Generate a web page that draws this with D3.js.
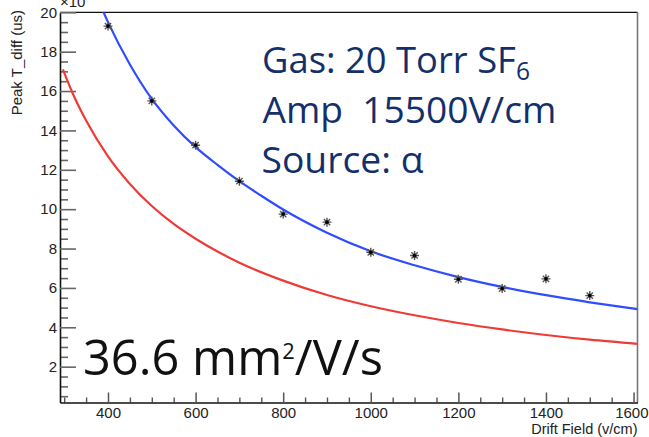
<!DOCTYPE html>
<html>
<head>
<meta charset="utf-8">
<script src="https://cdn.jsdelivr.net/npm/d3@7"></script>
<style>
  html, body { margin: 0; padding: 0; background: #fff; }
  svg { display: block; }
</style>
</head>
<body>
<svg id="chart" width="649" height="437"></svg>
<script>
// Axis tick values
const fieldTicks = [400, 600, 800, 1000, 1200, 1400, 1600];
const fieldMinorTicks = [300, 350, 450, 500, 550, 650, 700, 750, 850, 900, 950, 1050, 1100, 1150,
                         1250, 1300, 1350, 1450, 1500, 1550];
const timeTicks = [2, 4, 6, 8, 10, 12, 14, 16, 18, 20];
const timeMinorTicks = [0.5, 1, 1.5, 2.5, 3, 3.5, 4.5, 5, 5.5, 6.5, 7, 7.5, 8.5, 9, 9.5, 10.5, 11, 11.5,
                        12.5, 13, 13.5, 14.5, 15, 15.5, 16.5, 17, 17.5, 18.5, 19, 19.5];

// Measured peak time difference vs drift field
const driftField = [400, 500, 600, 700, 800, 900, 1000, 1100, 1200, 1300, 1400, 1500];
const peakTdiff  = [19.3, 15.5, 13.25, 11.42, 9.75, 9.34, 7.81, 7.65, 6.44, 5.97, 6.46, 5.61];

// Fitted curve through the measurements (blue)
const fitField = [380, 400, 450, 500, 550, 600, 650, 700, 750, 800, 900, 1000, 1100, 1200, 1300, 1400, 1500, 1609];
const fitTdiff = [20.5, 19.5, 17.35, 15.6, 14.25, 13.15, 12.25, 11.42, 10.68, 9.98, 8.8, 7.86, 7.15, 6.55, 6.05, 5.63, 5.27, 4.92];

// Expected curve (red)
const refField = [297, 320, 350, 400, 450, 500, 550, 600, 650, 700, 800, 900, 1000, 1100, 1200, 1300, 1400, 1500, 1609];
const refTdiff = [17.1, 15.85, 14.5, 12.68, 11.28, 10.16, 9.25, 8.5, 7.85, 7.28, 6.37, 5.64, 5.07, 4.61, 4.22, 3.89, 3.61, 3.37, 3.16];

const svg = d3.select("#chart");
const L = 60, R = 637.5, T = 12.3, B = 402.5;

const x = d3.scaleLinear().domain([290.4, 1609]).range([L, R]);
const y = d3.scaleLinear().domain([0.18, 20]).range([B, T]);

const axisFont = "'Liberation Sans', Arial, Helvetica, sans-serif";

// frame: top and right edges
svg.append("line").attr("x1", L).attr("x2", R).attr("y1", T).attr("y2", T)
  .attr("stroke", "#111").attr("stroke-width", 1.2);
svg.append("line").attr("x1", R).attr("x2", R).attr("y1", T).attr("y2", B)
  .attr("stroke", "#777").attr("stroke-width", 1.6);

// x axis (ticks point into the frame)
const xMinor = svg.append("g").attr("transform", `translate(0,${B})`)
  .call(d3.axisBottom(x).tickValues(fieldMinorTicks).tickSizeInner(-5).tickSizeOuter(0).tickFormat(""));
xMinor.select(".domain").remove();
xMinor.selectAll("line").attr("stroke", "#555").attr("stroke-width", 1.4);

const xAxis = svg.append("g").attr("transform", `translate(0,${B})`)
  .call(d3.axisBottom(x).tickValues(fieldTicks).tickSizeInner(-10).tickSizeOuter(0)
    .tickPadding(5).tickFormat(d3.format("d")));
xAxis.select(".domain").attr("stroke", "#111").attr("stroke-width", 1.6);
xAxis.selectAll("line").attr("stroke", "#555").attr("stroke-width", 1.5);
xAxis.selectAll("text").attr("font-family", axisFont).attr("font-size", 15).attr("fill", "#222");
// keep the last label inside the canvas
xAxis.selectAll(".tick").filter(d => d === 1600).select("text")
  .attr("text-anchor", "end").attr("x", 648 - x(1600));

// y axis
const yMinor = svg.append("g").attr("transform", `translate(${L},0)`)
  .call(d3.axisLeft(y).tickValues(timeMinorTicks).tickSizeInner(-8).tickSizeOuter(0).tickFormat(""));
yMinor.select(".domain").remove();
yMinor.selectAll("line").attr("stroke", "#666").attr("stroke-width", 1.6);

const yAxis = svg.append("g").attr("transform", `translate(${L},0)`)
  .call(d3.axisLeft(y).tickValues(timeTicks).tickSizeInner(-16).tickSizeOuter(0).tickPadding(3));
yAxis.select(".domain").attr("stroke", "#111").attr("stroke-width", 1.6);
yAxis.selectAll("line").attr("stroke", "#666").attr("stroke-width", 1.6);
yAxis.selectAll("text").attr("font-family", axisFont).attr("font-size", 15).attr("fill", "#222");

// axis titles
svg.append("text").attr("x", R).attr("y", 433.5).attr("text-anchor", "end")
  .attr("font-family", axisFont).attr("font-size", 14.5).attr("fill", "#222")
  .text("Drift Field (v/cm)");
svg.append("text").attr("transform", "translate(22,10) rotate(-90)").attr("text-anchor", "end")
  .attr("font-family", axisFont).attr("font-size", 15).attr("fill", "#222")
  .text("Peak T_diff (us)");
// axis exponent label, sitting at the top edge
svg.append("text").attr("x", 60).attr("y", 6.5)
  .attr("font-family", axisFont).attr("font-size", 15).attr("fill", "#222")
  .text("\u00d710");

// curves
svg.append("defs").append("clipPath").attr("id", "frame")
  .append("rect").attr("x", L).attr("y", T).attr("width", R - L).attr("height", B - T);

const line = d3.line().x(d => x(d[0])).y(d => y(d[1])).curve(d3.curveMonotoneX);
const plot = svg.append("g").attr("clip-path", "url(#frame)");

plot.append("path").datum(d3.zip(refField, refTdiff))
  .attr("d", line).attr("fill", "none").attr("stroke", "#ee3b35").attr("stroke-width", 2.2);
plot.append("path").datum(d3.zip(fitField, fitTdiff))
  .attr("d", line).attr("fill", "none").attr("stroke", "#2f4cff").attr("stroke-width", 2.2);

// asterisk markers
const markers = svg.append("g").selectAll("g").data(d3.zip(driftField, peakTdiff)).join("g")
  .attr("transform", d => `translate(${x(d[0])},${y(d[1])})`);
const r = 4.5;
markers.append("path")
  .attr("d", `M${-r},0H${r}M0,${-r}V${r}M${-r * 0.7},${-r * 0.7}L${r * 0.7},${r * 0.7}M${-r * 0.7},${r * 0.7}L${r * 0.7},${-r * 0.7}`)
  .attr("stroke", "#555").attr("stroke-width", 1.4).attr("fill", "none");
markers.append("circle").attr("r", 1.8).attr("fill", "#000");

// annotation text: one <text> per line, compressed horizontally to its width
const noteFont = "'Open Sans', 'Noto Sans', sans-serif";
const navy = "#13306b";
function note(parts, xPos, yPos, size, width, color) {
  const t = svg.append("text")
    .attr("font-family", noteFont).attr("font-size", size).attr("fill", color)
    .style("white-space", "pre");
  parts.forEach(p => {
    const s = t.append("tspan").text(p.text);
    if (p.size) s.attr("font-size", p.size);
    if (p.dy) s.attr("dy", p.dy);
  });
  const w = t.node().getComputedTextLength();
  t.attr("transform", `translate(${xPos},${yPos}) scale(${width / w},1)`);
  return t;
}
note([{ text: "Gas: 20 Torr SF" }, { text: "6", size: 25, dy: 6.5 }], 262, 73.3, 37, 268, navy);
note([{ text: "Amp  15500V/cm" }], 262.5, 123.3, 37, 294, navy);
note([{ text: "Source: \u03b1" }], 261.5, 172.7, 37, 162, navy);

note([{ text: "36.6 mm" }, { text: "2", size: 22, dy: -16 }, { text: "/V/s", dy: 16 }], 83, 375, 49, 300, "#111");
</script>
</body>
</html>
